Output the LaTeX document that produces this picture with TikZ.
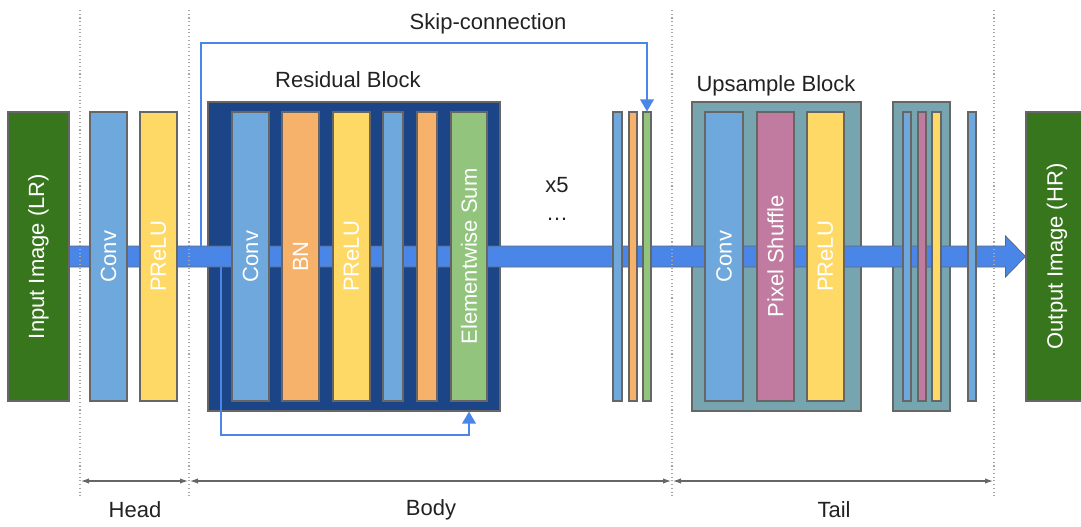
\documentclass[tikz,border=0pt]{standalone}
\usepackage{fontspec}
\setmainfont{Liberation Sans}
\usepackage{tikz}
\usetikzlibrary{arrows.meta}
\usetikzlibrary{positioning}

\definecolor{imggreen}{HTML}{38761D}
\definecolor{convblue}{HTML}{6FA8DC}
\definecolor{reluyellow}{HTML}{FFD966}
\definecolor{bnorange}{HTML}{F6B26B}
\definecolor{sumgreen}{HTML}{93C47D}
\definecolor{shufpink}{HTML}{C27BA0}
\definecolor{resnavy}{HTML}{1C4587}
\definecolor{upteal}{HTML}{76A5AF}
\definecolor{flowblue}{HTML}{4A86E8}
\definecolor{edgegrey}{HTML}{666666}
\definecolor{inkgrey}{HTML}{222222}

\newcommand{\vlabel}[1]{\rotatebox{90}{#1}}

\begin{document}
\begin{tikzpicture}[x=0.75pt, y=-0.75pt,
    font=\fontsize{16.5}{19}\selectfont,
    breadth/.style={minimum width=#1*0.75pt},
    layer/.style={draw=edgegrey, line width=0.8pt, inner sep=0pt,
        minimum height=289*0.75pt, text=white},
    block/.style={draw=edgegrey, line width=0.8pt, inner sep=0pt,
        minimum height=309*0.75pt},
    mainbar/.style={draw=edgegrey, line width=0.6pt, fill=flowblue},
    skiparrow/.style={draw=flowblue, line width=1.8pt,
        -{Triangle[width=10pt,length=9pt]}},
    divider/.style={draw=gray!70, dotted, line width=0.8pt},
    measure/.style={draw=edgegrey, line width=0.8pt,
        {Latex[length=6pt,width=4pt]}-{Latex[length=6pt,width=4pt]}},
    title/.style={text=inkgrey}]
    \useasboundingbox (0,0) rectangle (1081,526);

    % input / output images
    \node [layer, breadth=61, fill=imggreen] (input) at (38.5,256.5) {\vlabel{Input Image (LR)}};
    \node [layer, breadth=62, fill=imggreen] (output) at (1057,256.5) {\vlabel{Output Image (HR)}};

    % block frames
    \node [block, breadth=292, fill=resnavy] (resblock) at (354,256.5) {};
    \node [block, breadth=169, fill=upteal] (upblock) at (776.5,256.5) {};
    \node [block, breadth=57, fill=upteal] (upblock2) at (921.5,256.5) {};

    % main data flow
    \draw [mainbar] ([shift={(0,-10.5)}]input.east)
        -- ([shift={(-20,-10.5)}]output.west)
        -- ([shift={(-20,-20.5)}]output.west)
        -- (output.west)
        -- ([shift={(-20,20.5)}]output.west)
        -- ([shift={(-20,10.5)}]output.west)
        -- ([shift={(0,10.5)}]input.east) -- cycle;

    % head
    \node [layer, breadth=37, fill=convblue] (hconv) at (108.5,256.5) {\vlabel{Conv}};
    \node [layer, breadth=37, fill=reluyellow] (hprelu) at (158.5,256.5) {\vlabel{PReLU}};

    % residual block
    \node [layer, breadth=37, fill=convblue] (rconv) at (250.5,256.5) {\vlabel{Conv}};
    \node [layer, breadth=37, fill=bnorange] (rbn) at (300.5,256.5) {\vlabel{BN}};
    \node [layer, breadth=37, fill=reluyellow] (rprelu) at (351.5,256.5) {\vlabel{PReLU}};
    \node [layer, breadth=20, fill=convblue] (rconv2) at (393,256.5) {};
    \node [layer, breadth=20, fill=bnorange] (rbn2) at (427,256.5) {};
    \node [layer, breadth=36, fill=sumgreen] (rsum) at (469,256.5) {\vlabel{Elementwise Sum}};

    % end of body
    \node [layer, breadth=9, fill=convblue] (bconv) at (617.5,256.5) {};
    \node [layer, breadth=8, fill=bnorange] (bbn) at (633,256.5) {};
    \node [layer, breadth=8, fill=sumgreen] (bsum) at (647,256.5) {};

    % upsample blocks
    \node [layer, breadth=38, fill=convblue] (uconv) at (724,256.5) {\vlabel{Conv}};
    \node [layer, breadth=37, fill=shufpink] (ushuf) at (775.5,256.5) {\vlabel{Pixel Shuffle}};
    \node [layer, breadth=37, fill=reluyellow] (uprelu) at (825.5,256.5) {\vlabel{PReLU}};
    \node [layer, breadth=8, fill=convblue] (uconv2) at (907,256.5) {};
    \node [layer, breadth=8, fill=shufpink] (ushuf2) at (922,256.5) {};
    \node [layer, breadth=9, fill=reluyellow] (uprelu2) at (936.5,256.5) {};
    \node [layer, breadth=8, fill=convblue] (tconv) at (972,256.5) {};

    % skip connections
    \coordinate (skip in) at (201,246);
    \coordinate (res in) at (221,267);
    \draw [skiparrow] (skip in) -- ++(0,-203) -| (bsum.north);
    \draw [skiparrow] (res in) -- ++(0,168) -| (rsum |- resblock.south);

    % labels
    \node [title] (skiplabel) at (488,24) {Skip-connection};
    \node [title] (reslabel) at (348,80) {Residual Block};
    \node [title] (uplabel) at (776,86) {Upsample Block};
    \node [title] (repeat) at (557,185) {x5};
    \node [title] (more) at (557,219) {\dots};

    % stages
    \draw [divider] (80,10) -- (80,498);
    \draw [divider] (189,10) -- (189,498);
    \draw [divider] (672,10) -- (672,498);
    \draw [divider] (994,10) -- (994,498);
    \draw [measure] (81,481) -- (188,481);
    \draw [measure] (190,481) -- (671,481);
    \draw [measure] (673,481) -- (993,481);
    \node [title] (head) at (135,510) {Head};
    \node [title] (body) at (431,510) {Body};
    \node [title] (tail) at (834,510) {Tail};
\end{tikzpicture}
\end{document}
